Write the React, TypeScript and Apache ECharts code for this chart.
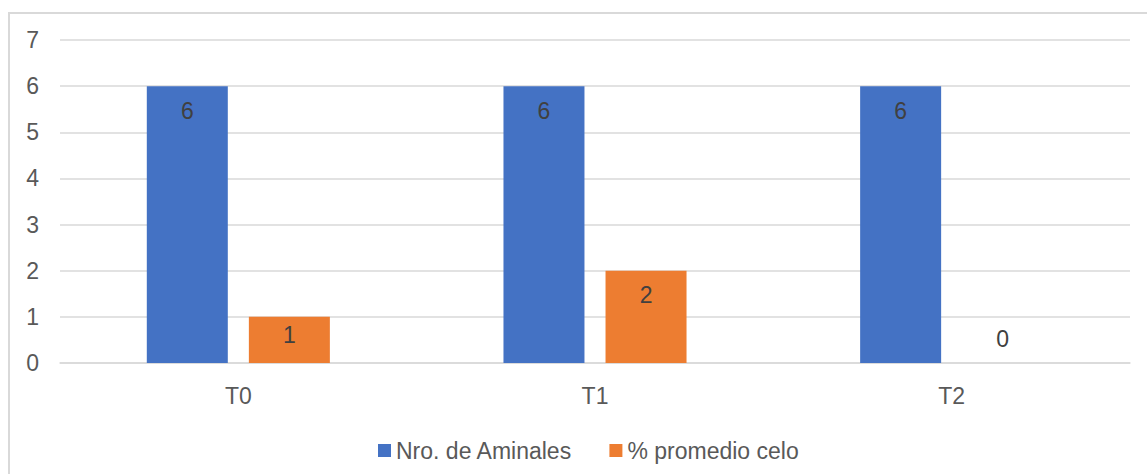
import React, { useEffect, useRef } from "react";
import * as echarts from "echarts";

const categories = ["T0", "T1", "T2"];
const seriesNames = ["Nro. de Aminales", "% promedio celo"];
const animales = [6, 6, 6];
const celo = [1, 2, 0];
const yTicks = [0, 1, 2, 3, 4, 5, 6, 7];

const FONT = "'Liberation Sans', Arial, sans-serif";
const BLUE = "#4472C4";
const ORANGE = "#ED7D31";
const LABEL = "#404040";
const AXIS_TEXT = "#595959";
const GRID = "#D9D9D9";

function labelFor(v: number) {
  if (v === 0) return { position: "top", distance: 13 };
  if (v === 1) return { position: "insideTop", distance: 7 };
  return { position: "insideTop", distance: 13 };
}

export default function App() {
  const ref = useRef<HTMLDivElement>(null);
  useEffect(() => {
    if (!ref.current) return;
    const chart = echarts.init(ref.current, null, { renderer: "svg" });
    const mk = (vals: number[]) =>
      vals.map((v) => ({ value: v, label: labelFor(v) }));
    chart.setOption({
      animation: false,
      backgroundColor: "#ffffff",
      textStyle: { fontFamily: FONT },
      graphic: [
        {
          type: "rect",
          shape: { x: 9, y: 13, width: 1300, height: 600 },
          style: { fill: "none", stroke: GRID, lineWidth: 2 },
          silent: true,
        },
      ],
      grid: { left: 60, right: 17, top: 40, bottom: 111, containLabel: false },
      legend: {
        data: seriesNames,
        left: 373,
        top: 434,
        itemWidth: 13,
        itemHeight: 13,
        itemGap: 37,
        icon: "rect",
        textStyle: { fontFamily: FONT, fontSize: 23, color: AXIS_TEXT },
      },
      xAxis: {
        type: "category",
        data: categories,
        axisLine: { show: true, lineStyle: { color: GRID, width: 1.5 } },
        axisTick: { show: false },
        axisLabel: { fontFamily: FONT, fontSize: 23, color: AXIS_TEXT, margin: 21 },
      },
      yAxis: {
        type: "value",
        min: yTicks[0],
        max: yTicks[yTicks.length - 1],
        interval: 1,
        axisLine: { show: false },
        axisTick: { show: false },
        splitLine: { lineStyle: { color: GRID, width: 1.5 } },
        axisLabel: { fontFamily: FONT, fontSize: 23, color: AXIS_TEXT, margin: 21 },
      },
      series: [
        {
          name: seriesNames[0],
          type: "bar",
          data: mk(animales),
          barWidth: 81,
          barGap: "26%",
          itemStyle: { color: BLUE },
          label: { show: true, fontFamily: FONT, fontSize: 23, lineHeight: 23, color: LABEL },
        },
        {
          name: seriesNames[1],
          type: "bar",
          data: mk(celo),
          barWidth: 81,
          itemStyle: { color: ORANGE },
          label: { show: true, fontFamily: FONT, fontSize: 23, lineHeight: 23, color: LABEL },
        },
      ],
    });
    return () => chart.dispose();
  }, []);
  return (
    <div
      ref={ref}
      style={{ position: "fixed", left: 0, top: 0, width: 1147, height: 474 }}
    />
  );
}
